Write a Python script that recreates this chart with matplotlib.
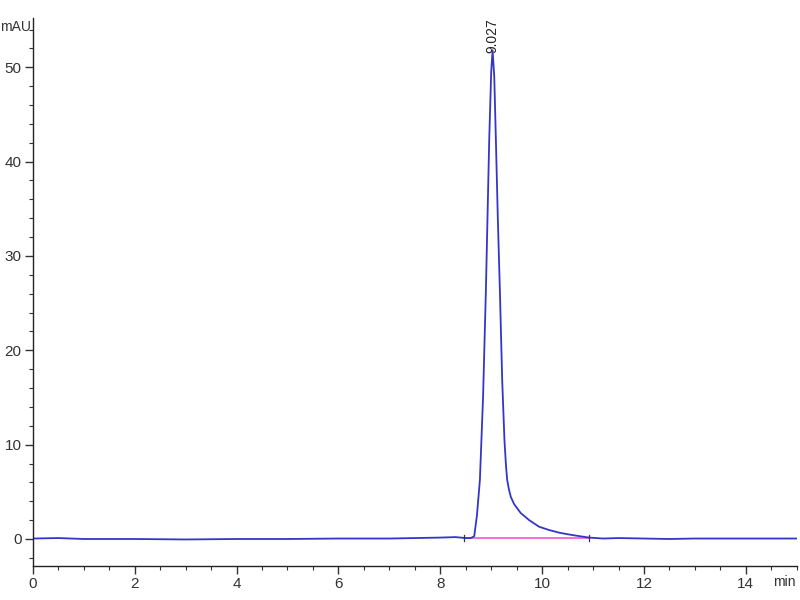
import matplotlib as mpl
from matplotlib import pyplot as plt
from matplotlib.ticker import MultipleLocator

plt.rcParams['font.family'] = ['Liberation Sans Narrow', 'Liberation Sans', 'DejaVu Sans']

# signal (min, mAU)
time_min = [0.0, 0.5, 1.0, 1.5, 2.0, 3.0, 4.0, 5.0, 6.0, 7.0, 7.5, 8.0, 8.3, 8.5,
            8.6, 8.667, 8.72, 8.778, 8.84, 8.896, 8.961, 9.0, 9.027, 9.06, 9.092,
            9.13, 9.170, 9.216, 9.26, 9.29, 9.314, 9.35, 9.386, 9.45, 9.49, 9.58,
            9.745, 9.94, 10.137, 10.35, 10.59, 10.92, 11.2, 11.5, 12.0, 12.5, 13.0,
            14.0, 15.0]
signal_mau = [0.05, 0.1, 0.0, 0.0, 0.0, -0.05, 0.0, 0.0, 0.05, 0.05, 0.1, 0.15, 0.2, 0.1,
              0.1, 0.3, 2.5, 6.25, 15.0, 26.4, 42.3, 49.5, 51.8, 49.0, 42.3,
              34.0, 26.4, 16.8, 10.5, 7.8, 6.25, 5.2, 4.45, 3.7, 3.4, 2.75,
              2.0, 1.3, 0.95, 0.65, 0.42, 0.15, 0.05, 0.1, 0.05, 0.0, 0.05,
              0.05, 0.05]

baseline_t = [8.47, 10.92]
baseline_v = [0.1, 0.1]

peak_rt = 9.027
peak_label = '9.027'

fig = plt.figure(figsize=(8, 6), dpi=100)
ax = fig.add_axes([0.041, 0.0567, 0.955, 0.913])

ax.plot(time_min, signal_mau, color='#3535c8', lw=1.3)
ax.plot(baseline_t, baseline_v, color='#f070dc', lw=1.4, zorder=1)
# peak start / end markers
for t in baseline_t:
    ax.plot([t, t], [-0.25, 0.45], color='#303060', lw=0.9)

ax.text(peak_rt, 51.5, peak_label, rotation=90, ha='center', va='bottom',
        fontsize=10, color='#222222')

ax.set_xlim(0, 15)
ax.set_ylim(-2.86, 55.2)
ax.xaxis.set_major_locator(MultipleLocator(2))
ax.xaxis.set_minor_locator(MultipleLocator(0.5))
ax.yaxis.set_major_locator(MultipleLocator(10))
ax.yaxis.set_minor_locator(MultipleLocator(2))

for s in ['top', 'right']:
    ax.spines[s].set_visible(False)
for s in ['left', 'bottom']:
    ax.spines[s].set_color('#222222')
    ax.spines[s].set_linewidth(1.0)

ax.tick_params(which='major', length=6, width=1.0, color='#333333',
               labelsize=11, labelcolor='#333333', pad=2)
ax.tick_params(which='minor', length=3, width=0.8, color='#333333')

fig.text(0.0, 0.955, 'mAU', fontsize=10, color='#333333', ha='left', va='center')
fig.text(0.995, 0.03, 'min', fontsize=10, color='#333333', ha='right', va='center')

plt.savefig('out.png', dpi=100)
plt.close()
